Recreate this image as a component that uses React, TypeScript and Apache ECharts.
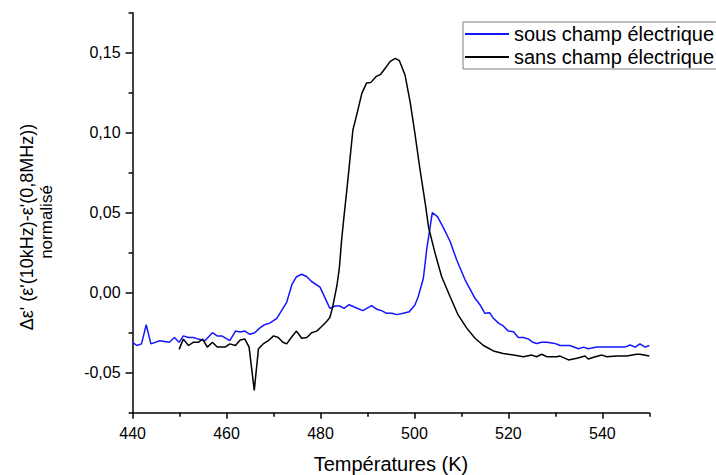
import React, { useEffect, useRef } from "react";
import * as echarts from "echarts";

const seriesNames = ["sous champ électrique", "sans champ électrique"];

const sousT = [440.0, 440.9, 441.9, 442.9, 443.9, 445.8, 447.8, 448.9, 449.9, 450.8, 451.9, 452.9, 454.0, 455.4, 457.0, 458.0, 459.0, 460.7, 461.9, 462.9, 463.9, 465.0, 466.0, 467.1, 468.1, 469.2, 470.7, 472.8, 473.9, 474.9, 476.0, 477.1, 478.1, 479.9, 482.0, 483.1, 484.1, 485.0, 486.1, 487.3, 489.0, 490.9, 492.0, 493.0, 494.1, 495.2, 496.2, 497.6, 498.9, 500.1, 500.8, 501.9, 502.6, 503.8, 504.9, 506.1, 507.6, 509.0, 510.8, 512.9, 514.0, 515.0, 516.0, 516.8, 517.9, 518.9, 520.0, 521.1, 522.1, 523.2, 524.3, 525.2, 526.0, 527.1, 528.2, 529.9, 531.0, 533.1, 534.9, 536.0, 537.0, 538.8, 540.9, 543.0, 544.8, 545.9, 547.0, 548.0, 549.1, 550.0];
const sousV = [-0.031, -0.033, -0.032, -0.020, -0.032, -0.030, -0.031, -0.028, -0.031, -0.027, -0.028, -0.028, -0.029, -0.030, -0.025, -0.027, -0.027, -0.030, -0.024, -0.0245, -0.024, -0.026, -0.025, -0.022, -0.020, -0.019, -0.016, -0.006, 0.005, 0.010, 0.0115, 0.010, 0.007, 0.0035, -0.0098, -0.0083, -0.0083, -0.0098, -0.0075, -0.0091, -0.0112, -0.0081, -0.0104, -0.0112, -0.0129, -0.0129, -0.0137, -0.0129, -0.0119, -0.0077, -0.0025, 0.009, 0.0267, 0.050, 0.0475, 0.041, 0.032, 0.0204, 0.0079, -0.0035, -0.0077, -0.0129, -0.0125, -0.016, -0.019, -0.0208, -0.024, -0.0244, -0.028, -0.028, -0.029, -0.031, -0.0317, -0.031, -0.031, -0.0317, -0.033, -0.033, -0.035, -0.034, -0.035, -0.034, -0.034, -0.034, -0.034, -0.0327, -0.034, -0.032, -0.034, -0.033];

const sansT = [449.9, 450.8, 451.9, 452.9, 454.0, 454.9, 455.9, 457.0, 458.0, 459.7, 460.7, 461.9, 462.9, 463.9, 464.8, 465.9, 466.8, 467.8, 468.9, 470.0, 471.0, 472.0, 472.8, 473.9, 474.9, 476.0, 477.1, 478.1, 479.2, 480.3, 481.3, 482.0, 482.6, 483.5, 484.0, 484.5, 485.0, 485.6, 486.9, 487.7, 488.8, 489.8, 490.7, 491.8, 492.8, 493.7, 494.8, 495.9, 496.8, 498.0, 499.1, 500.1, 501.2, 502.3, 503.0, 504.4, 505.8, 507.6, 509.3, 511.1, 512.9, 514.7, 516.8, 518.9, 521.1, 523.2, 525.0, 526.0, 527.1, 528.2, 530.3, 531.0, 532.8, 534.6, 536.3, 537.0, 538.5, 539.9, 541.0, 543.0, 545.2, 547.3, 548.0, 550.0];
const sansV = [-0.0354, -0.029, -0.033, -0.031, -0.031, -0.029, -0.034, -0.031, -0.034, -0.034, -0.032, -0.033, -0.0296, -0.029, -0.034, -0.061, -0.035, -0.032, -0.030, -0.027, -0.028, -0.031, -0.032, -0.0275, -0.024, -0.0285, -0.028, -0.025, -0.024, -0.021, -0.018, -0.0155, -0.0087, 0.0045, 0.015, 0.033, 0.0475, 0.064, 0.1017, 0.111, 0.1246, 0.131, 0.1313, 0.135, 0.1365, 0.140, 0.1444, 0.1465, 0.145, 0.136, 0.119, 0.0996, 0.0767, 0.0559, 0.041, 0.0246, 0.010, -0.0025, -0.0139, -0.022, -0.0285, -0.033, -0.0364, -0.038, -0.039, -0.040, -0.039, -0.040, -0.0385, -0.040, -0.040, -0.0396, -0.042, -0.041, -0.0396, -0.0414, -0.040, -0.039, -0.040, -0.0396, -0.0395, -0.0385, -0.0385, -0.0395];

const xMajorTicks = [440, 460, 480, 500, 520, 540];
const xMinorTicks = [450, 470, 490, 510, 530, 550];
const yMajorTicks = [-0.05, 0, 0.05, 0.1, 0.15];
const yMinorTicks = [-0.075, -0.025, 0.025, 0.075, 0.125, 0.175];

const FONT = '"Liberation Sans", Arial, sans-serif';

export default function App() {
  const ref = useRef<HTMLDivElement>(null);
  useEffect(() => {
    if (!ref.current) return;
    const chart = echarts.init(ref.current, undefined, { renderer: "svg" });
    const axisLineStyle = { color: "#000", width: 1.5 };
    const fmtY = (v: number) => v.toFixed(2).replace(".", ",");
    const option: any = {
      animation: false,
      backgroundColor: "#fff",
      textStyle: { fontFamily: FONT },
      grid: { left: 132.6, right: 66.7, top: 12.7, bottom: 62.3, containLabel: false, outerBoundsMode: "none" },
      legend: {
        data: seriesNames,
        orient: "vertical",
        left: 463,
        top: 22,
        icon: "rect",
        itemWidth: 44,
        itemHeight: 2,
        itemGap: 1,
        padding: [1, 3, 1, 2],
        borderColor: "#808080",
        borderWidth: 1,
        backgroundColor: "#fff",
        textStyle: { fontSize: 20, color: "#000", fontFamily: FONT, lineHeight: 22 },
      },
      xAxis: [
        {
          type: "value",
          min: 440,
          max: 550,
          axisLine: { onZero: false, lineStyle: axisLineStyle },
          axisTick: { customValues: xMajorTicks, length: 6, lineStyle: axisLineStyle },
          axisLabel: { customValues: xMajorTicks, fontSize: 16, color: "#000", margin: 13, fontFamily: FONT },
          splitLine: { show: false },
          name: "Températures (K)",
          nameLocation: "middle",
          nameGap: 41,
          nameTextStyle: { fontSize: 20, color: "#000", fontFamily: FONT },
        },
        {
          type: "value",
          min: 440,
          max: 550,
          position: "bottom",
          axisLine: { show: false, onZero: false },
          axisTick: { customValues: xMinorTicks, length: 4, lineStyle: axisLineStyle },
          axisLabel: { show: false },
          splitLine: { show: false },
        },
      ],
      yAxis: [
        {
          type: "value",
          min: -0.075,
          max: 0.175,
          axisLine: { show: true, onZero: false, lineStyle: axisLineStyle },
          axisTick: { show: true, customValues: yMajorTicks, length: 7, lineStyle: axisLineStyle },
          axisLabel: { customValues: yMajorTicks, fontSize: 16, color: "#000", margin: 12, formatter: fmtY, fontFamily: FONT },
          splitLine: { show: false },
        },
        {
          type: "value",
          min: -0.075,
          max: 0.175,
          position: "left",
          axisLine: { show: false, onZero: false },
          axisTick: { show: true, customValues: yMinorTicks, length: 4, lineStyle: axisLineStyle },
          axisLabel: { show: false },
          splitLine: { show: false },
        },
      ],
      graphic: [
        {
          type: "text",
          x: 27,
          y: 227,
          rotation: Math.PI / 2,
          style: { text: "Δε' (ε'(10kHz)-ε'(0,8MHz))", fontSize: 18, fontFamily: FONT, fill: "#000", align: "center", verticalAlign: "middle" },
        },
        {
          type: "text",
          x: 46,
          y: 222,
          rotation: Math.PI / 2,
          style: { text: "normalisé", fontSize: 17, fontFamily: FONT, fill: "#000", align: "center", verticalAlign: "middle" },
        },
      ],
      series: [
        {
          name: seriesNames[0],
          type: "line",
          symbol: "none",
          color: "#1515ff",
          lineStyle: { width: 1.5, color: "#1515ff" },
          data: sousT.map((t, i) => [t, sousV[i]]),
        },
        {
          name: seriesNames[1],
          type: "line",
          symbol: "none",
          color: "#000",
          lineStyle: { width: 1.5, color: "#000" },
          data: sansT.map((t, i) => [t, sansV[i]]),
        },
      ],
    };
    chart.setOption(option);
    return () => chart.dispose();
  }, []);
  return <div ref={ref} style={{ position: "fixed", left: 0, top: 0, width: 716, height: 475 }} />;
}
